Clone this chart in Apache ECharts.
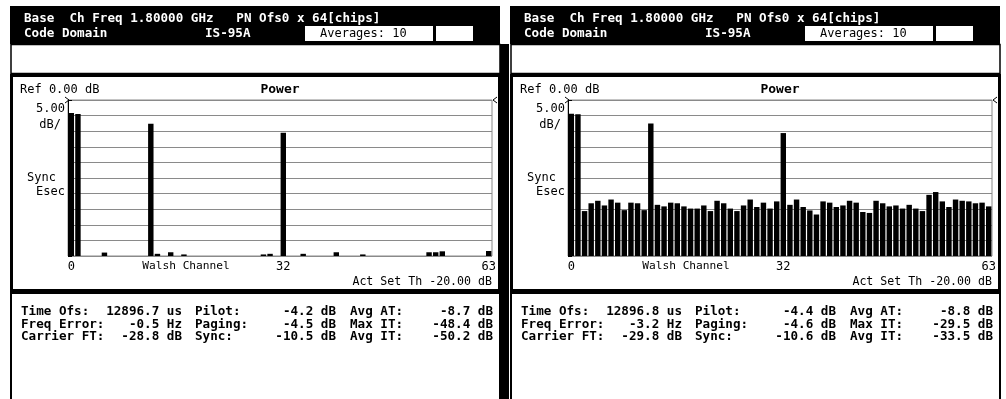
<!DOCTYPE html>
<html>
<head>
<meta charset="utf-8">
<script src="https://cdn.jsdelivr.net/npm/echarts@6/dist/echarts.min.js"></script>
<style>
  html, body { margin: 0; padding: 0; background: #fff; }
  #chart { width: 1006px; height: 399px; }
</style>
</head>
<body>
<div id="chart"></div>
<script>
// Walsh code channels 0..63
const walshChannels = Array.from({ length: 64 }, (_, i) => String(i));
const axisTickLabels = ['0', '32', '63'];

// Code-domain power per Walsh channel, dB relative to total (null = below display floor)
const powerA = [
  -4.2, -4.5, null, null, null, -48.9, null, null,
  null, null, null, null, -7.6, -49.3, null, -48.8,
  null, -49.5, null, null, null, null, null, null,
  null, null, null, null, null, -49.5, -49.3, null,
  -10.5, null, null, -49.3, null, null, null, null,
  -48.8, null, null, null, -49.5, null, null, null,
  null, null, null, null, null, null, -48.8, -48.8,
  -48.5, null, null, null, null, null, null, -48.4
];
const powerB = [
  -4.4, -4.6, -35.6, -33.1, -32.3, -33.8, -31.9, -32.9,
  -35.3, -32.9, -33.1, -35.3, -7.5, -33.6, -34.1, -32.9,
  -33.1, -34.1, -34.8, -34.8, -33.8, -35.6, -32.3, -33.1,
  -34.8, -35.6, -33.8, -31.9, -34.3, -32.9, -34.8, -32.5,
  -10.6, -33.6, -31.9, -34.3, -35.4, -36.7, -32.5, -32.9,
  -34.3, -33.8, -32.3, -32.9, -35.9, -36.2, -32.3, -33.1,
  -34.1, -33.8, -34.8, -33.6, -34.8, -35.6, -30.4, -29.5,
  -32.5, -34.3, -31.9, -32.3, -32.5, -33.1, -32.9, -34.1
];

// Measurement readouts shown under each trace
const readoutA = {
  timeOfs: '12896.7 us', freqError: '-0.5 Hz', carrierFT: '-28.8 dB',
  avgAT: '-8.7 dB', maxIT: '-48.4 dB', avgIT: '-50.2 dB'
};
const readoutB = {
  timeOfs: '12896.8 us', freqError: '-3.2 Hz', carrierFT: '-29.8 dB',
  avgAT: '-8.8 dB', maxIT: '-29.5 dB', avgIT: '-33.5 dB'
};

const REF_DB = 0;
const FLOOR_DB = -50;
const DB_PER_DIV = 5;

const MONO = '"DejaVu Sans Mono", "Liberation Mono", monospace';
const boldFont = (s) => 'bold ' + s + 'px ' + MONO;
const normFont = (s) => s + 'px ' + MONO;

function dbText(v) { return v.toFixed(1) + ' dB'; }

function txt(x, y, text, font, align, fill) {
  return {
    type: 'text', x: x, y: y, silent: true, z: 20,
    style: { text: text, font: font, fill: fill || '#000', align: align || 'left', verticalAlign: 'middle' }
  };
}
function box(x, y, w, h, fill, stroke, lw) {
  return {
    type: 'rect', silent: true, z: 1,
    shape: { x: x, y: y, width: w, height: h },
    style: { fill: fill || 'none', stroke: stroke || null, lineWidth: lw || 0 }
  };
}

// Screen furniture of one analyzer display, offset horizontally by ox
function panelGraphics(ox, power, ro) {
  const g = [];
  // title bar
  g.push(box(ox + 10, 6, 490, 38, '#000'));
  g.push(txt(ox + 24, 19, 'Base  Ch Freq 1.80000 GHz   PN Ofs0 x 64[chips]', boldFont(12.6), 'left', '#fff'));
  g.push(txt(ox + 24, 34, 'Code Domain', boldFont(12.6), 'left', '#fff'));
  g.push(txt(ox + 205, 34, 'IS-95A', boldFont(12.6), 'left', '#fff'));
  g.push(box(ox + 305, 26, 128, 15, '#fff'));
  g.push(txt(ox + 320, 33.5, 'Averages: 10', normFont(12), 'left', '#000'));
  g.push(box(ox + 436, 26, 37, 15, '#fff'));
  // message line
  g.push(box(ox + 11, 44.5, 489, 29, '#fff', '#000', 1.5));
  // trace frame
  g.push(box(ox + 11.5, 75.5, 488, 215, 'none', '#000', 3));
  g.push(txt(ox + 20, 90, 'Ref 0.00 dB', normFont(12)));
  g.push(txt(ox + 280, 90, 'Power', boldFont(13), 'center'));
  g.push(txt(ox + 65, 109, (DB_PER_DIV).toFixed(2), normFont(12), 'right'));
  g.push(txt(ox + 61, 125, 'dB/', normFont(12), 'right'));
  g.push(txt(ox + 27, 178, 'Sync', normFont(12)));
  g.push(txt(ox + 65, 192, 'Esec', normFont(12), 'right'));
  g.push(txt(ox + 186, 266, 'Walsh Channel', normFont(11.2), 'center'));
  g.push(txt(ox + 492, 282, 'Act Set Th -20.00 dB', normFont(11.6), 'right'));
  // reference level markers
  g.push({ type: 'polyline', silent: true, z: 20, shape: { points: [[ox + 65, 97], [ox + 69, 100], [ox + 65, 103]] }, style: { stroke: '#000', lineWidth: 1, fill: null } });
  g.push({ type: 'polyline', silent: true, z: 20, shape: { points: [[ox + 497, 97], [ox + 493, 100], [ox + 497, 103]] }, style: { stroke: '#000', lineWidth: 1, fill: null } });
  // readout box
  g.push(box(ox + 11, 293, 489, 110, 'none', '#000', 2));
  const f = boldFont(12.6);
  const rows = [
    ['Time Ofs:', ro.timeOfs, 'Pilot:', dbText(power[0]), 'Avg AT:', ro.avgAT],
    ['Freq Error:', ro.freqError, 'Paging:', dbText(power[1]), 'Max IT:', ro.maxIT],
    ['Carrier FT:', ro.carrierFT, 'Sync:', dbText(power[32]), 'Avg IT:', ro.avgIT]
  ];
  rows.forEach((r, i) => {
    const y = 312 + i * 12.5;
    g.push(txt(ox + 21, y, r[0], f));
    g.push(txt(ox + 182, y, r[1], f, 'right'));
    g.push(txt(ox + 195, y, r[2], f));
    g.push(txt(ox + 336, y, r[3], f, 'right'));
    g.push(txt(ox + 350, y, r[4], f));
    g.push(txt(ox + 493, y, r[5], f, 'right'));
  });
  return g;
}

function renderBar(params, api) {
  const v = api.value(1);
  if (v == null || isNaN(v) || v <= FLOOR_DB) return;
  const top = api.coord([api.value(0), v]);
  const base = api.coord([api.value(0), FLOOR_DB]);
  const w = api.size([1, 0])[0] * 0.82;
  return {
    type: 'rect',
    shape: { x: top[0] - w / 2, y: top[1], width: w, height: base[1] - top[1] },
    style: { fill: '#000' }
  };
}

const panels = [
  { ox: 0, power: powerA, ro: readoutA },
  { ox: 500, power: powerB, ro: readoutB }
];

const grids = [], xAxes = [], yAxes = [], series = [];
let graphics = [
  // divider between the two displays
  box(500, 44, 9, 355, '#000')
];
panels.forEach((p, k) => {
  grids.push({
    left: p.ox + 68, top: 100, width: 424, height: 156,
    show: true, borderColor: '#8a8a8a', borderWidth: 1, backgroundColor: 'transparent'
  });
  xAxes.push({
    type: 'category', gridIndex: k, data: walshChannels,
    axisLine: { show: false },
    axisTick: { show: false },
    splitLine: { show: false },
    axisLabel: {
      interval: 0,
      formatter: (v) => axisTickLabels.indexOf(v) >= 0 ? v : '',
      color: '#000', fontFamily: MONO, fontSize: 12, margin: 5
    }
  });
  yAxes.push({
    type: 'value', gridIndex: k, min: FLOOR_DB, max: REF_DB, interval: DB_PER_DIV,
    axisLine: { show: true, lineStyle: { color: '#000', width: 1 } },
    axisTick: { show: true, inside: true, length: 4, lineStyle: { color: '#000' } },
    axisLabel: { show: false },
    splitLine: { show: true, lineStyle: { color: '#8a8a8a', width: 1 } }
  });
  series.push({
    type: 'custom', xAxisIndex: k, yAxisIndex: k,
    renderItem: renderBar, clip: true,
    data: p.power.map((v, i) => [i, v]),
    encode: { x: 0, y: 1 }
  });
  graphics = graphics.concat(panelGraphics(p.ox, p.power, p.ro));
});

const chart = echarts.init(document.getElementById('chart'), null, { renderer: 'canvas' });
chart.setOption({
  animation: false,
  backgroundColor: '#fff',
  grid: grids,
  xAxis: xAxes,
  yAxis: yAxes,
  series: series,
  graphic: graphics
});
</script>
</body>
</html>
